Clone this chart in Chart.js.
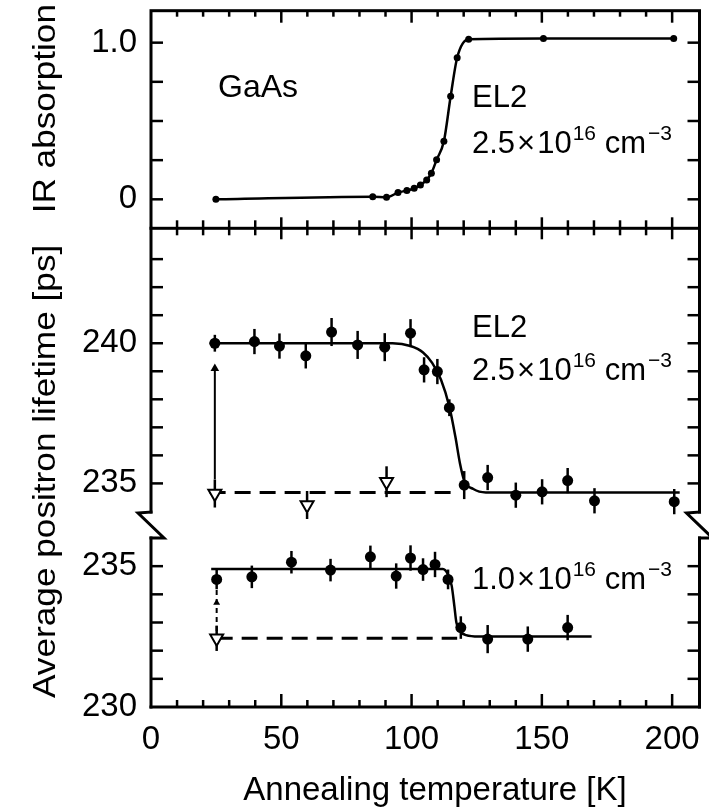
<!DOCTYPE html>
<html lang="en">
<head>
  <meta charset="UTF-8" />
  <title>GaAs EL2 annealing</title>
  <script src="https://cdn.jsdelivr.net/npm/chart.js"></script>
  <style>
    * { margin: 0; padding: 0; box-sizing: border-box; }
    body { background: #fff; }
    .wrap { width: 709px; height: 807px; position: relative; }
  </style>
</head>
<body>
<div class="wrap"><canvas id="myChart"></canvas></div>
<script>
  // top panel: IR absorption
  const irTemp = [24.9, 85.1, 90.4, 94.8, 98.2, 101, 103.4, 105.8, 107.6, 109.6, 112.4, 115, 117.5, 121.9, 150.6, 200.6];
  const irAbs  = [0, 0.017, 0.013, 0.043, 0.056, 0.07, 0.092, 0.124, 0.167, 0.252, 0.37, 0.658, 0.904, 1.021, 1.026, 1.026];

  // middle panel: EL2 2.5e16
  const midTemp = [24.5, 39.7, 49.3, 59.4, 69.3, 79.3, 89.7, 99.6, 104.8, 109.9, 114.5, 120.2, 129.2, 140, 150.1, 159.9, 170.2, 200.8];
  const midLife = [240.0, 240.06, 239.9, 239.55, 240.4, 239.94, 239.86, 240.36, 239.05, 238.99, 237.7, 234.94, 235.21, 234.58, 234.7, 235.1, 234.38, 234.35];
  const midErr  = [0.3, 0.45, 0.45, 0.45, 0.5, 0.5, 0.5, 0.5, 0.45, 0.45, 0.3, 0.5, 0.45, 0.45, 0.45, 0.45, 0.45, 0.45];
  const midRefTemp = [24.5, 59.9, 90.4];
  const midRefLife = [234.64, 234.23, 235.06];
  const midRefErr  = [0.5, 0.5, 0.55];
  const midFitTemp = [22.5, 92.7, 99.6, 104.4, 107.9, 111.3, 114.5, 116.8, 118.6, 120.2, 123.7, 128.5, 202.9];
  const midFitLife = [240.0, 240.0, 239.9, 239.67, 239.3, 238.7, 237.74, 236.67, 235.7, 235.1, 234.8, 234.68, 234.68];
  const midDashTemp = [22.5, 117.5];
  const midDashLife = [234.68, 234.68];
  const midArrowTemp = [24.5, 24.5];
  const midArrowLife = [235.15, 239.1];

  // lower panel: EL2 1.0e16
  const lowTemp = [25.2, 38.7, 53.9, 68.9, 84.2, 94.1, 99.6, 104.4, 109, 114, 118.9, 129.2, 144.6, 159.9];
  const lowLife = [234.53, 234.62, 235.14, 234.86, 235.33, 234.65, 235.29, 234.88, 235.06, 234.53, 232.82, 232.41, 232.41, 232.82];
  const lowErr  = [0.35, 0.4, 0.4, 0.4, 0.4, 0.45, 0.45, 0.4, 0.45, 0.35, 0.4, 0.5, 0.45, 0.45];
  const lowRefTemp = [25.2];
  const lowRefLife = [232.44];
  const lowRefErr  = [0.45];
  const lowFitTemp = [23.1, 112, 114, 115.4, 116.4, 117.2, 118.6, 120.9, 125.8, 169.1];
  const lowFitLife = [234.9, 234.9, 234.7, 234.3, 233.6, 233.0, 232.7, 232.55, 232.5, 232.5];
  const lowDashTemp = [25.2, 117.5];
  const lowDashLife = [232.44, 232.44];
  const lowArrowTemp = [25.2, 25.2, 25.2];
  const lowArrowLife = [232.7, 233.7, 234.15];

  // ticks
  const xTicks = [0, 10, 20, 30, 40, 50, 60, 70, 80, 90, 100, 110, 120, 130, 140, 150, 160, 170, 180, 190, 200];
  const xLabels = [0, 50, 100, 150, 200];
  const topTicks = [0, 0.25, 0.5, 0.75, 1];
  const midTicks = [235, 236, 237, 238, 239, 240, 241, 242, 243];
  const midLabels = [240, 235];
  const lowTicks = [230, 231, 232, 233, 234, 235];
  const lowLabels = [235, 230];

  const FONT = "'Liberation Sans', Arial, sans-serif";
  const pts = (xs, ys) => xs.map((x, i) => ({ x, y: ys[i] }));

  const yAxis = (weight, stackWeight, min, max, ticks, label) => ({
    type: 'linear', position: 'left', stack: 'panels', weight, stackWeight, min, max,
    grid: { display: false, drawTicks: false }, border: { display: false },
    afterBuildTicks: s => { s.ticks = ticks.map(v => ({ value: v })); },
    afterFit: s => { s.width = 151; s.paddingTop = 0; s.paddingBottom = 0; },
    ticks: { display: !!label, padding: 14, color: '#000', font: { family: FONT, size: 33 }, autoSkip: false,
      callback: label || (() => '') }
  });

  const line = (ctx, x1, y1, x2, y2) => {
    ctx.beginPath(); ctx.moveTo(x1, y1); ctx.lineTo(x2, y2); ctx.stroke();
  };

  // 2.5 x 10^16 cm^-3 style labels
  function sci(ctx, x, y, mant) {
    const main = `31px ${FONT}`, sup = `21px ${FONT}`;
    ctx.font = main; ctx.fillText(mant, x, y); x += ctx.measureText(mant).width + 2;
    ctx.fillText('×', x, y); x += ctx.measureText('×').width + 2;
    ctx.fillText('10', x, y); x += ctx.measureText('10').width + 1;
    ctx.font = sup; ctx.fillText('16', x, y - 13); x += ctx.measureText('16').width;
    ctx.font = main; ctx.fillText(' cm', x, y); x += ctx.measureText(' cm').width + 2;
    ctx.font = sup; ctx.fillText('−3', x, y - 13);
  }

  const panelDeco = {
    id: 'panelDeco',
    beforeDatasetsDraw(chart) {
      const ctx = chart.ctx;
      ctx.save();
      ctx.strokeStyle = '#000'; ctx.lineWidth = 2.5;
      chart.data.datasets.forEach((ds, i) => {
        if (!ds.errorBars) return;
        const ys = chart.scales[ds.yAxisID];
        chart.getDatasetMeta(i).data.forEach((p, j) => {
          const v = ds.data[j].y, e = ds.errorBars[j];
          line(ctx, p.x, ys.getPixelForValue(v + e), p.x, ys.getPixelForValue(v - e));
        });
      });
      ctx.restore();
    },
    afterDraw(chart) {
      const { ctx, chartArea: a, scales: s } = chart;
      const L = a.left, R = a.right;
      ctx.save();
      ctx.strokeStyle = '#000'; ctx.fillStyle = '#000';
      ctx.lineWidth = 3; ctx.lineCap = 'square';
      // frames
      ctx.strokeRect(L, s.yTop.top, R - L, s.yTop.bottom - s.yTop.top);
      [L, R].forEach(X => {
        line(ctx, X, s.yMid.top, X, s.yMid.bottom);
        line(ctx, X, s.yLow.top, X, s.yLow.bottom);
        ctx.beginPath();
        ctx.moveTo(X, s.yMid.bottom);
        ctx.lineTo(X - 13, s.yMid.bottom + 1);
        ctx.lineTo(X + 13, s.yLow.top);
        ctx.lineTo(X, s.yLow.top);
        ctx.stroke();
      });
      line(ctx, L, s.yLow.bottom, R, s.yLow.bottom);
      // y ticks, inward on both sides
      ctx.lineWidth = 2.5; ctx.lineCap = 'butt';
      [s.yTop, s.yMid, s.yLow].forEach(sc => {
        sc.ticks.forEach(t => {
          const y = sc.getPixelForValue(t.value);
          if (y < sc.top + 2 || y > sc.bottom - 2) return;
          line(ctx, L, y, L + 12, y);
          line(ctx, R - 12, y, R, y);
        });
      });
      // x ticks: top frame, divider, bottom frame
      const div = s.yTop.bottom;
      s.x.ticks.forEach(t => {
        const x = s.x.getPixelForValue(t.value);
        if (x < L + 2 || x > R - 2) return;
        const major = t.value % 50 === 0;
        line(ctx, x, s.yTop.top, x, s.yTop.top + (major ? 12 : 6));
        line(ctx, x, div - (major ? 11 : 8), x, div + (major ? 11 : 7));
        line(ctx, x, s.yLow.bottom, x, s.yLow.bottom - (major ? 13 : 7));
      });
      // annotations
      ctx.textAlign = 'left'; ctx.textBaseline = 'alphabetic';
      ctx.font = `32px ${FONT}`;
      ctx.fillText('GaAs', 218, 97);
      ctx.font = `31px ${FONT}`;
      ctx.fillText('EL2', 472, 107);
      sci(ctx, 472, 153, '2.5');
      ctx.font = `31px ${FONT}`;
      ctx.fillText('EL2', 472, 337);
      sci(ctx, 472, 380, '2.5');
      sci(ctx, 472, 589, '1.0');
      // axis titles
      ctx.font = `33px ${FONT}`;
      ctx.textAlign = 'center';
      ctx.fillText('Annealing temperature [K]', 435, 800);
      ctx.font = `32px ${FONT}`;
      ctx.save();
      ctx.translate(55, 698); ctx.rotate(-Math.PI / 2); ctx.scale(1.1, 1);
      ctx.textAlign = 'left';
      ctx.fillText('Average positron lifetime [ps]', 0, 0);
      ctx.restore();
      ctx.save();
      ctx.translate(55, 4); ctx.rotate(-Math.PI / 2); ctx.scale(1.1, 1);
      ctx.textAlign = 'right';
      ctx.fillText('IR absorption', 0, 0);
      ctx.restore();
      ctx.restore();
    }
  };

  const dot = { showLine: false, pointRadius: 5.5, pointBackgroundColor: '#000', pointBorderWidth: 0, order: 0 };
  const tri = { showLine: false, pointStyle: 'triangle', pointRotation: 180, pointRadius: 7.5,
    pointBackgroundColor: '#fff', pointBorderColor: '#000', pointBorderWidth: 2, order: 0 };
  const fit = { pointRadius: 0, borderColor: '#000', borderWidth: 2.5, cubicInterpolationMode: 'monotone', order: 1 };
  const dash = { pointRadius: 0, borderColor: '#000', borderWidth: 3, borderDash: [16, 9], order: 1 };

  new Chart(document.getElementById('myChart'), {
    type: 'line',
    data: {
      datasets: [
        { label: 'IR absorption', data: pts(irTemp, irAbs), yAxisID: 'yTop', borderColor: '#000', borderWidth: 2.5,
          cubicInterpolationMode: 'monotone', pointRadius: 3.5, pointBackgroundColor: '#000', pointBorderWidth: 0 },
        { label: 'EL2 2.5e16', data: pts(midTemp, midLife), yAxisID: 'yMid', errorBars: midErr, ...dot },
        { label: 'ref 2.5e16', data: pts(midRefTemp, midRefLife), yAxisID: 'yMid', errorBars: midRefErr, ...tri },
        { label: 'fit 2.5e16', data: pts(midFitTemp, midFitLife), yAxisID: 'yMid', ...fit },
        { label: 'base 2.5e16', data: pts(midDashTemp, midDashLife), yAxisID: 'yMid', ...dash },
        { label: 'arrow 2.5e16', data: pts(midArrowTemp, midArrowLife), yAxisID: 'yMid', borderColor: '#000', borderWidth: 2,
          pointStyle: 'triangle', pointRadius: [0, 5], pointBackgroundColor: '#000', pointBorderWidth: 0, order: 1 },
        { label: 'EL2 1.0e16', data: pts(lowTemp, lowLife), yAxisID: 'yLow', errorBars: lowErr, ...dot },
        { label: 'ref 1.0e16', data: pts(lowRefTemp, lowRefLife), yAxisID: 'yLow', errorBars: lowRefErr, ...tri },
        { label: 'fit 1.0e16', data: pts(lowFitTemp, lowFitLife), yAxisID: 'yLow', ...fit },
        { label: 'base 1.0e16', data: pts(lowDashTemp, lowDashLife), yAxisID: 'yLow', ...dash },
        { label: 'arrow 1.0e16', data: pts(lowArrowTemp, lowArrowLife), yAxisID: 'yLow', borderColor: '#000', borderWidth: 2,
          borderDash: [5, 4], pointStyle: 'triangle', pointRadius: [0, 4, 0], pointBackgroundColor: '#000', pointBorderWidth: 0, order: 1 }
      ]
    },
    options: {
      responsive: true,
      maintainAspectRatio: false,
      animation: false,
      events: [],
      layout: { padding: { top: 10.7, right: 3, left: 0, bottom: 0 } },
      plugins: { legend: { display: false }, tooltip: { enabled: false } },
      scales: {
        x: {
          type: 'linear', position: 'bottom', min: 0, max: 210.5,
          grid: { display: false, drawTicks: false }, border: { display: false },
          afterBuildTicks: s => { s.ticks = xTicks.map(v => ({ value: v })); },
          afterFit: s => { s.height = 100; s.paddingLeft = 0; s.paddingRight = 0; },
          ticks: { autoSkip: false, maxRotation: 0, padding: 13, color: '#000', font: { family: FONT, size: 33 },
            callback: v => xLabels.includes(v) ? String(v) : '' }
        },
        yTop: yAxis(4, 217.6, -0.185, 1.204, topTicks, v => v === 1 ? '1.0' : v === 0 ? '0' : ''),
        yMid: yAxis(3, 283.7, 233.98, 244.1, midTicks, v => midLabels.includes(v) ? String(v) : ''),
        yGap: yAxis(2, 26, 0, 1, [], null),
        yLow: yAxis(1, 169, 230, 236, lowTicks, v => lowLabels.includes(v) ? String(v) : '')
      }
    },
    plugins: [panelDeco]
  });
</script>
</body>
</html>
